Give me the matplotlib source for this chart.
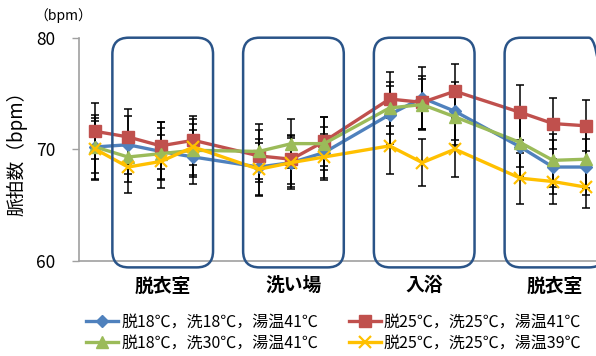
import matplotlib
matplotlib.use("Agg")
import matplotlib.pyplot as plt
from matplotlib.patches import FancyBboxPatch
import numpy as np

plt.rcParams['font.family'] = ['Noto Sans CJK JP', 'DejaVu Sans']

# Measurement groups: baseline point, then the rooms visited in order
group_names = ["", "脱衣室", "洗い場", "入浴", "脱衣室"]
group_sizes = [1, 3, 3, 3, 3]

series_labels = [
    "脱18℃，洗18℃，湯温41℃",
    "脱25℃，洗25℃，湯温41℃",
    "脱18℃，洗30℃，湯温41℃",
    "脱25℃，洗25℃，湯温39℃",
]

hr_a = [70.2, 70.4, 69.8, 69.3, 68.4, 68.8, 69.7, 73.1, 74.6, 73.4, 70.2, 68.4, 68.4]
hr_b = [71.6, 71.1, 70.3, 70.8, 69.4, 69.1, 70.7, 74.5, 74.2, 75.2, 73.3, 72.3, 72.1]
hr_c = [70.2, 69.3, 69.6, 69.9, 69.8, 70.5, 70.5, 73.7, 74.0, 72.9, 70.6, 69.0, 69.1]
hr_d = [70.0, 68.4, 68.9, 70.2, 68.2, 68.8, 69.3, 70.3, 68.8, 70.0, 67.4, 67.1, 66.6]

sd_a = [2.9, 2.6, 2.6, 2.4, 2.5, 2.4, 2.3, 2.6, 2.8, 2.6, 2.6, 2.4, 2.5]
sd_b = [2.5, 2.5, 2.1, 2.2, 2.3, 2.2, 2.2, 2.4, 2.4, 2.4, 2.5, 2.3, 2.3]
sd_c = [2.3, 2.2, 2.3, 2.4, 2.5, 2.2, 2.4, 2.3, 2.3, 2.5, 2.2, 2.4, 2.6]
sd_d = [2.8, 2.3, 2.4, 2.5, 2.4, 2.2, 2.1, 2.5, 2.1, 2.5, 2.3, 2.0, 1.9]

y_ticks = [60, 70, 80]

# x positions: one empty slot between consecutive rooms
xpos = []
spans = []
cursor = 0
for gi, n in enumerate(group_sizes):
    if gi >= 2:
        cursor += 1
    start = cursor
    xpos.extend(range(cursor, cursor + n))
    cursor += n
    if gi >= 1:
        spans.append((start, cursor - 1))
xpos = np.array(xpos)

fig = plt.figure(figsize=(5.96, 3.56), dpi=100)
ax = fig.add_axes([0.1326, 0.2677, 0.8775, 0.6264])
ax.set_xlim(-0.5, 15.5)
ax.set_ylim(60, 80)

styles = [
    dict(color="#4F81BD", marker="D", ms=6.5),
    dict(color="#C0504D", marker="s", ms=8),
    dict(color="#9BBB59", marker="^", ms=8.5),
    dict(color="#FFC000", marker="x", ms=8, mew=1.6),
]
values = [hr_a, hr_b, hr_c, hr_d]
errors = [sd_a, sd_b, sd_c, sd_d]

handles = []
for vals, errs, st, lab in zip(values, errors, styles, series_labels):
    ax.errorbar(xpos, vals, yerr=errs, fmt="none", ecolor="black",
                elinewidth=1.1, capsize=3, capthick=1.1, zorder=3)
    h, = ax.plot(xpos, vals, lw=2.4, label=lab, zorder=4, **st)
    handles.append(h)

# rounded frames around each room
for (a, b) in spans:
    x0 = a - 0.48
    x1 = b + 0.6
    box = FancyBboxPatch((x0, 59.4), x1 - x0, 80 - 59.4,
                         boxstyle="round,pad=0,rounding_size=0.5",
                         mutation_aspect=2.94, transform=ax.transData,
                         fill=False, ec="#2A5488", lw=1.8, clip_on=False,
                         zorder=5)
    ax.add_patch(box)

# room names below the axis
for (a, b), name in zip(spans, group_names[1:]):
    ax.text((a + b) / 2 + 0.05, 57.75, name, ha="center", va="center",
            fontsize=13.5, fontweight="bold", transform=ax.transData)

ax.set_xticks([])
ax.set_yticks(y_ticks)
ax.tick_params(axis="y", length=5, width=1, color="#A0A0A0", pad=12,
               labelsize=12.5)
for s in ["top", "right"]:
    ax.spines[s].set_visible(False)
for s in ["left", "bottom"]:
    ax.spines[s].set_color("#A0A0A0")
    ax.spines[s].set_linewidth(1.2)

ax.set_ylabel("脈拍数（bpm）", fontsize=13.5, labelpad=6)
fig.text(0.058, 0.955, "（bpm）", fontsize=10, ha="left", va="center")

order = [0, 2, 1, 3]
leg = fig.legend([handles[i] for i in order], [series_labels[i] for i in order],
                 ncol=2, loc="center", bbox_to_anchor=(0.56, 0.065),
                 frameon=False, fontsize=11.5, handlelength=2.0,
                 columnspacing=1.9, handletextpad=0.2, labelspacing=0.25)
for h in leg.legend_handles:
    h.set_linewidth(2.4)

fig.savefig("out.png", dpi=100)
